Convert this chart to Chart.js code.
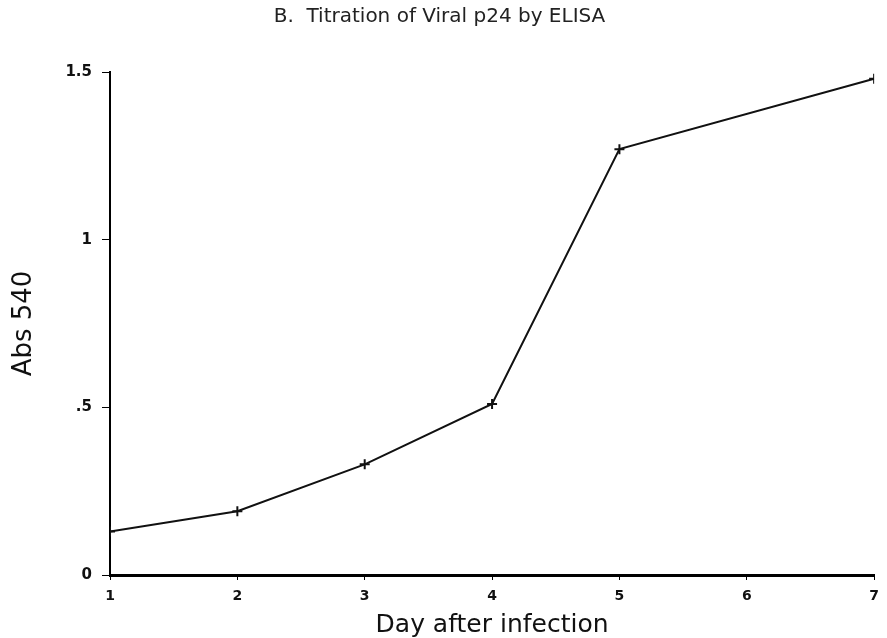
<!DOCTYPE html>
<html>
<head>
<meta charset="utf-8">
<script src="https://cdn.jsdelivr.net/npm/chart.js@4/dist/chart.umd.min.js"></script>
<style>
  html, body { margin: 0; padding: 0; background: #fff; }
  #wrap { width: 887px; height: 638px; }
</style>
</head>
<body>
<div id="wrap"><canvas id="c" width="887" height="638"></canvas></div>
<script>
const days = [1, 2, 3, 4, 5, 7];
const abs540 = [0.13, 0.19, 0.33, 0.51, 1.27, 1.48];
const yTickLabels = { 0: '0', 0.5: '.5', 1: '1', 1.5: '1.5' };
const titleText = 'B.  Titration of Viral p24 by ELISA';
const xTitle = 'Day after infection';
const yTitle = 'Abs 540';

const points = days.map((d, i) => ({ x: d, y: abs540[i] }));
const FONT = '"DejaVu Sans", sans-serif';

new Chart(document.getElementById('c'), {
  type: 'line',
  data: {
    datasets: [{
      data: points,
      borderColor: '#111',
      borderWidth: 2,
      pointStyle: 'cross',
      pointRadius: 5,
      pointBorderWidth: 2,
      pointBorderColor: '#111',
      tension: 0,
      fill: false
    }]
  },
  options: {
    responsive: false,
    animation: false,
    layout: { padding: { right: 8, left: 0, top: 0, bottom: 0 } },
    plugins: {
      legend: { display: false },
      tooltip: { enabled: false },
      title: {
        display: true,
        text: titleText,
        color: '#222',
        font: { family: FONT, size: 20, weight: 'normal', lineHeight: 1.2 },
        padding: { top: 5, bottom: 43 }
      }
    },
    scales: {
      x: {
        type: 'linear',
        min: 1, max: 7,
        border: { display: true, color: '#000', width: 3 },
        grid: { drawOnChartArea: false, drawTicks: true, tickLength: 5, color: '#000' },
        ticks: { stepSize: 1, color: '#111', font: { family: FONT, size: 14, weight: 'bold' }, padding: 8 },
        title: { display: true, text: xTitle, color: '#111', font: { family: FONT, size: 25, lineHeight: 1 }, padding: { top: 0, bottom: 0 } },
        afterFit: (s) => { s.height = 63; }
      },
      y: {
        min: 0, max: 1.5,
        border: { display: true, color: '#000', width: 2 },
        grid: { drawOnChartArea: false, drawTicks: true, tickLength: 8, color: '#000' },
        ticks: {
          stepSize: 0.5,
          color: '#111',
          font: { family: FONT, size: 15, weight: 'bold' },
          padding: 10,
          callback: (v) => (yTickLabels[v] !== undefined ? yTickLabels[v] : '')
        },
        title: { display: true, text: yTitle, color: '#111', font: { family: FONT, size: 26, lineHeight: 1 }, padding: { top: 11, bottom: 0 } },
        afterFit: (s) => { s.width = 110; }
      }
    }
  }
});
</script>
</body>
</html>
